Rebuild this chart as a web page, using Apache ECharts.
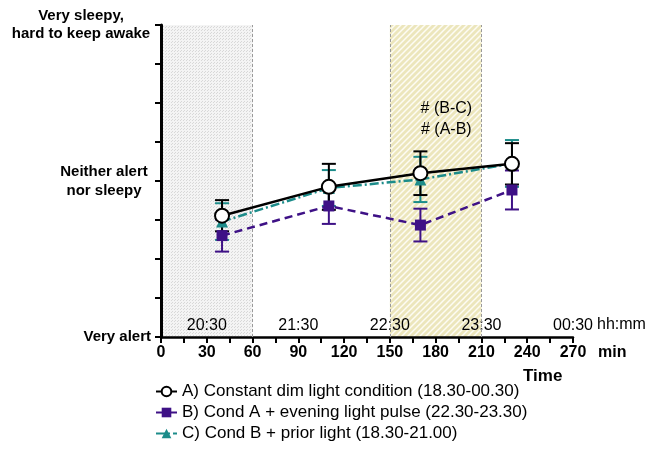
<!DOCTYPE html>
<html><head><meta charset="utf-8">
<script src="https://cdn.jsdelivr.net/npm/echarts/dist/echarts.min.js"></script>
<style>html,body{margin:0;padding:0;background:#fff}#c{width:649px;height:458px}</style>
</head><body><div id="c"></div>
<script>
// ---- data ----
const timesMin = [40, 110, 170, 230];
const nameA = 'A) Constant dim light condition (18.30-00.30)';
const nameB = 'B) Cond A + evening light pulse (22.30-23.30)';
const nameC = 'C) Cond B + prior light (18.30-21.00)';
const valuesA = [4.11, 4.85, 5.20, 5.44];
const errA    = [0.40, 0.59, 0.56, 0.53];
const valuesB = [3.60, 4.36, 3.87, 4.77];
const errB    = [0.41, 0.46, 0.42, 0.50];
const valuesC = [3.96, 4.82, 5.04, 5.45];
const errC    = [0.47, 0.46, 0.58, 0.60];
const yTickLabels = {
  1: '{v|Very alert}',
  5: '{n|Neither alert}\n{n|nor sleepy}',
  9: '{s|Very sleepy,}\n{s|hard to keep awake}'
};
const clockLabels = {30: '20:30', 90: '21:30', 150: '22:30', 210: '23:30', 270: '00:30'};
const priorLight = [0, 60];
const lightPulse = [150, 210];
const annotationText = '# (B-C)\n# (A-B)';
const annotationAt = [187, 6.58];

// ---- patterns ----
function dotPattern() {
  const c = document.createElement('canvas'); c.width = 3; c.height = 3;
  const g = c.getContext('2d');
  g.fillStyle = '#f4f4f4'; g.fillRect(0, 0, 3, 3);
  g.fillStyle = '#d8d8d8'; g.fillRect(0, 0, 1, 1); g.fillRect(1, 2, 1, 1);
  return c;
}
function hatchPattern() {
  const s = 6;
  const c = document.createElement('canvas'); c.width = s; c.height = s;
  const g = c.getContext('2d');
  g.fillStyle = '#ece6bc'; g.fillRect(0, 0, s, s);
  g.strokeStyle = '#fdfcf4'; g.lineWidth = 1.5;
  g.beginPath();
  g.moveTo(-1, s + 1); g.lineTo(s + 1, -1);
  g.moveTo(-1, 1); g.lineTo(1, -1);
  g.moveTo(s - 1, s + 1); g.lineTo(s + 1, s - 1);
  g.stroke();
  return c;
}

function errorBars(name, values, errs, color, z) {
  return {
    type: 'custom', name: name, z: z, silent: true,
    data: timesMin.map((t, i) => [t, values[i] - errs[i], values[i] + errs[i]]),
    encode: {x: 0, y: [1, 2]},
    renderItem: function (params, api) {
      const x = api.value(0);
      const lo = api.coord([x, api.value(1)]);
      const hi = api.coord([x, api.value(2)]);
      const w = 7;
      const style = {stroke: color, lineWidth: 2, fill: null};
      return {type: 'group', children: [
        {type: 'line', shape: {x1: lo[0], y1: lo[1], x2: hi[0], y2: hi[1]}, style: style},
        {type: 'line', shape: {x1: lo[0] - w, y1: lo[1], x2: lo[0] + w, y2: lo[1]}, style: style},
        {type: 'line', shape: {x1: hi[0] - w, y1: hi[1], x2: hi[0] + w, y2: hi[1]}, style: style}
      ]};
    }
  };
}

const FONT = 'Liberation Sans, Arial';
const colA = '#000000', colB = '#3e1186', colC = '#1c8c8a';
const chart = echarts.init(document.getElementById('c'), null, {renderer: 'canvas'});
chart.setOption({
  animation: false,
  backgroundColor: '#fff',
  grid: {left: 161, right: 76, top: 25, bottom: 121},
  xAxis: [{
    type: 'value', min: 0, max: 270, interval: 15, z: 3,
    axisLine: {lineStyle: {color: '#000', width: 2.5}},
    axisTick: {length: 6, lineStyle: {color: '#000', width: 2}},
    splitLine: {show: false},
    axisLabel: {
      color: '#000', fontSize: 16, fontWeight: 'bold', fontFamily: FONT, margin: 8,
      showMinLabel: true, showMaxLabel: true,
      formatter: v => (v % 30 === 0 ? String(v) : '')
    }
  }, {
    type: 'value', min: 0, max: 270, interval: 30, position: 'bottom', z: 3,
    axisLine: {show: false}, axisTick: {show: false}, splitLine: {show: false},
    axisLabel: {
      inside: true, margin: 3, color: '#000', fontSize: 16, fontFamily: FONT,
      showMinLabel: true, showMaxLabel: true,
      formatter: v => clockLabels[v] || ''
    }
  }],
  yAxis: {
    type: 'value', min: 1, max: 9, interval: 1, z: 3,
    axisLine: {show: true, lineStyle: {color: '#000', width: 3}},
    axisTick: {show: true, length: 6, lineStyle: {color: '#000', width: 2}},
    splitLine: {show: false},
    axisLabel: {
      color: '#000', fontSize: 15, fontWeight: 'bold', fontFamily: FONT,
      align: 'right', margin: 10,
      formatter: v => yTickLabels[v] || '',
      rich: {
        s: {width: 140, align: 'center', fontSize: 15, fontWeight: 'bold', lineHeight: 18, color: '#000', fontFamily: FONT},
        n: {width: 94, align: 'center', fontSize: 15, fontWeight: 'bold', lineHeight: 19, color: '#000', fontFamily: FONT},
        v: {fontSize: 15, fontWeight: 'bold', color: '#000', fontFamily: FONT}
      }
    }
  },
  legend: {
    orient: 'vertical', left: 150, top: 378, itemGap: 4, itemWidth: 21, itemHeight: 12,
    data: [nameA, nameB, nameC],
    textStyle: {color: '#000', fontSize: 17, fontFamily: FONT}
  },
  graphic: [
    {type: 'text', left: 597, top: 317, style: {text: 'hh:mm', fontSize: 16, fill: '#000', fontFamily: FONT}},
    {type: 'text', left: 598, top: 345, style: {text: 'min', fontSize: 16, fontWeight: 'bold', fill: '#000', fontFamily: FONT}},
    {type: 'text', left: 523, top: 368, style: {text: 'Time', fontSize: 17, fontWeight: 'bold', fill: '#000', fontFamily: FONT}}
  ],
  series: [
    {
      type: 'line', name: 'bg', data: [], z: 1, silent: true,
      markArea: {
        silent: true,
        data: [
          [{xAxis: priorLight[0], itemStyle: {color: {image: dotPattern(), repeat: 'repeat'}}}, {xAxis: priorLight[1]}],
          [{xAxis: lightPulse[0], itemStyle: {color: {image: hatchPattern(), repeat: 'repeat'}}}, {xAxis: lightPulse[1]}]
        ]
      },
      markLine: {
        silent: true, symbol: 'none', label: {show: false},
        lineStyle: {color: '#9a9a9a', type: [3, 2], width: 1},
        data: [{xAxis: priorLight[1]}, {xAxis: lightPulse[0]}, {xAxis: lightPulse[1]}]
      }
    },
    errorBars('errC', valuesC, errC, colC, 4),
    errorBars('errB', valuesB, errB, colB, 5),
    errorBars('errA', valuesA, errA, colA, 6),
    {
      type: 'line', name: nameC, z: 7,
      data: timesMin.map((t, i) => [t, valuesC[i]]),
      symbol: 'triangle', symbolSize: 12,
      itemStyle: {color: colC},
      lineStyle: {color: colC, width: 2.5, type: [9, 3, 2, 3]}
    },
    {
      type: 'line', name: nameB, z: 8,
      data: timesMin.map((t, i) => [t, valuesB[i]]),
      symbol: 'rect', symbolSize: 11,
      itemStyle: {color: colB},
      lineStyle: {color: colB, width: 2.5, type: [8, 5]}
    },
    {
      type: 'line', name: nameA, z: 9,
      data: timesMin.map((t, i) => [t, valuesA[i]]),
      symbol: 'circle', symbolSize: 14,
      itemStyle: {color: '#fff', borderColor: colA, borderWidth: 2},
      lineStyle: {color: colA, width: 2.5},
      markPoint: {
        symbol: 'circle', symbolSize: 0,
        label: {show: true, formatter: annotationText, color: '#000', fontSize: 16, lineHeight: 21, fontFamily: FONT},
        data: [{coord: annotationAt}]
      }
    }
  ]
});
</script>
</body></html>
